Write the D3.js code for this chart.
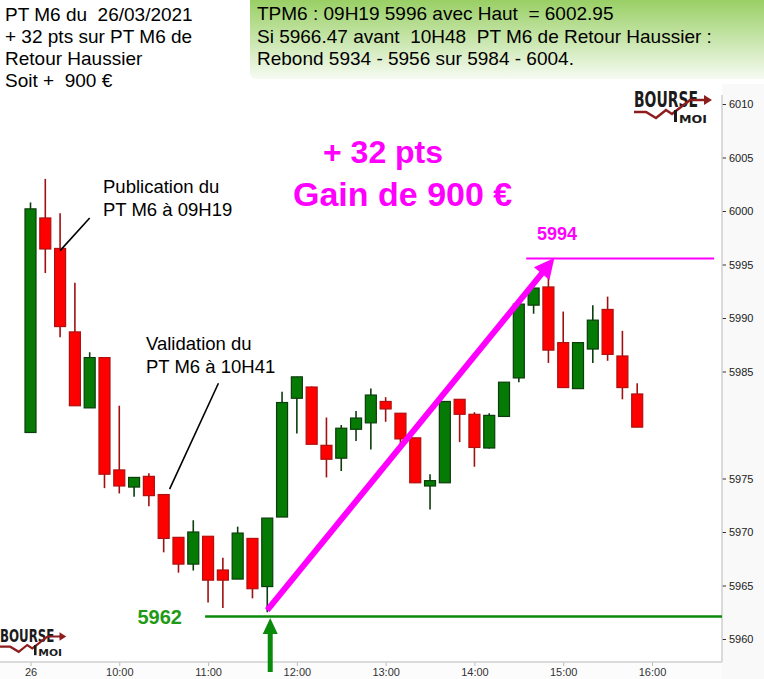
<!DOCTYPE html>
<html>
<head>
<meta charset="utf-8">
<script src="https://cdn.jsdelivr.net/npm/d3@7"></script>
<style>
  body { margin: 0; background: #fff; }
  svg  { display: block; font-family: "Liberation Sans", Arial, sans-serif; }
</style>
</head>
<body>
<div id="chart"></div>
<script>
// 10 minute candles, 26/03/2021
var times  = ["09:00","09:10","09:20","09:30","09:40","09:50","10:00","10:10","10:20","10:30",
              "10:40","10:50","11:00","11:10","11:20","11:30","11:40","11:50","12:00","12:10",
              "12:20","12:30","12:40","12:50","13:00","13:10","13:20","13:30","13:40","13:50",
              "14:00","14:10","14:20","14:30","14:40","14:50","15:00","15:10","15:20","15:30",
              "15:40","15:50"];
var opens  = [5979.3,5999.35,5996.5,5988.7,5981.6,5986.3,5975.8,5974.2,5975.2,5973.5,
              5969.5,5967.0,5969.6,5966.45,5965.6,5969.4,5964.9,5971.4,5982.5,5983.55,
              5978.1,5976.9,5979.6,5980.2,5982.2,5981.1,5978.8,5974.3,5974.6,5982.4,
              5981.0,5977.85,5980.8,5984.4,5991.2,5992.9,5987.7,5983.4,5987.1,5990.8,
              5986.45,5982.9];
var highs  = [6000.8,6003.0,5999.8,5993.3,5986.8,5986.3,5981.8,5975.1,5975.5,5973.5,
              5969.5,5971.1,5969.6,5967.6,5970.5,5969.4,5971.3,5983.1,5984.5,5983.6,
              5980.7,5980.0,5981.3,5983.4,5982.6,5981.1,5978.8,5975.4,5982.2,5982.4,
              5981.2,5981.1,5984.0,5991.3,5992.8,5993.8,5990.6,5987.7,5991.2,5992.0,
              5988.8,5983.9];
var lows   = [5979.3,5994.2,5988.2,5981.8,5981.6,5974.1,5973.6,5973.3,5972.4,5968.1,
              5966.2,5966.4,5963.4,5962.9,5965.6,5963.8,5962.5,5971.4,5979.2,5978.2,
              5975.1,5975.7,5978.5,5977.7,5980.3,5978.1,5974.6,5972.1,5974.6,5978.4,
              5976.1,5977.8,5980.8,5984.0,5990.4,5985.8,5983.5,5983.4,5985.8,5986.0,
              5982.4,5979.8];
var closes = [6000.2,5996.45,5989.2,5981.8,5986.3,5975.4,5974.3,5975.1,5973.4,5969.4,
              5967.0,5970.0,5965.5,5965.5,5969.9,5964.7,5971.3,5982.1,5984.5,5978.2,
              5976.8,5979.7,5980.65,5982.8,5981.5,5978.7,5974.6,5974.8,5982.2,5981.0,
              5977.9,5980.9,5984.0,5991.3,5992.8,5987.0,5983.5,5987.7,5989.8,5986.6,
              5983.5,5979.8];

var yTicks      = [6010, 6005, 6000, 5995, 5990, 5985, 5975, 5970, 5965, 5960];
var xTicks      = ["09:00","10:00","11:00","12:00","13:00","14:00","15:00","16:00"];
var xTickLabels = ["26","10:00","11:00","12:00","13:00","14:00","15:00","16:00"];

var headerLeft  = ["PT M6 du  26/03/2021", "+ 32 pts sur PT M6 de", "Retour Haussier", "Soit +  900 \u20ac"];
var headerRight = ["TPM6 : 09H19 5996 avec Haut  = 6002.95",
                   "Si 5966.47 avant  10H48  PT M6 de Retour Haussier :",
                   "Rebond 5934 - 5956 sur 5984 - 6004."];

// levels and arrows (time, value)
var support     = {value: 5962.1, label: "5962", from: "10:58"};
var target      = {value: 5995.55, label: "5994", from: "14:35", to: "16:42"};
var gainArrow   = [["11:40", 5962.7], ["14:54", 5995.6]];
var callout1    = [["09:40", 5999.35], ["09:20", 5996.3]];
var callout2    = [["11:07", 5983.9], ["10:34", 5974.0]];

var W = 764, H = 679;
var plot = {left: 0, right: 722, top: 95, bottom: 662};

var parse = d3.timeParse("%H:%M");
var x = d3.scaleTime().domain([parse("09:00"), parse("16:00")]).range([30.5, 652]);
var y = d3.scaleLinear().domain([5960, 6010]).range([639, 104]);

var data = times.map(function(t, i) {
    return {t: parse(t), o: opens[i], h: highs[i], l: lows[i], c: closes[i]};
});

var svg = d3.select("#chart").append("svg").attr("width", W).attr("height", H);
var defs = svg.append("defs");

// backgrounds
svg.append("rect").attr("x", plot.right).attr("y", 84).attr("width", W - plot.right).attr("height", H - 84).attr("fill", "#f9f9f9");
svg.append("rect").attr("x", 0).attr("y", plot.bottom).attr("width", plot.right).attr("height", H - plot.bottom).attr("fill", "#fcfcfc");

// header box gradient
var grad = defs.append("linearGradient").attr("id", "hdr").attr("x1", 0).attr("y1", 0).attr("x2", 0).attr("y2", 1);
grad.append("stop").attr("offset", "0%").attr("stop-color", "#92cc5a");
grad.append("stop").attr("offset", "100%").attr("stop-color", "#f6fbf2");
svg.append("rect").attr("x", 250).attr("y", -6).attr("width", 520).attr("height", 85).attr("rx", 6).attr("fill", "url(#hdr)");

svg.append("g").selectAll("text").data(headerLeft).enter()
    .append("text")
    .attr("x", 5).attr("y", function(d, i) { return 21 + i * 22; })
    .style("white-space", "pre").attr("font-size", 19).attr("fill", "#000")
    .text(function(d) { return d; });

svg.append("g").selectAll("text").data(headerRight).enter()
    .append("text")
    .attr("x", 257).attr("y", function(d, i) { return 20 + i * 22.5; })
    .style("white-space", "pre").attr("font-size", 19).attr("fill", "#000")
    .text(function(d) { return d; });

// axes
var yAxis = d3.axisRight(y).tickValues(yTicks).tickSize(4).tickPadding(3).tickFormat(d3.format("d"));
var gy = svg.append("g").attr("transform", "translate(" + plot.right + ",0)").call(yAxis);
gy.select(".domain").remove();
gy.selectAll("line").attr("stroke", "#333");
gy.selectAll("text").attr("font-size", 11).attr("fill", "#222").attr("font-family", "Liberation Sans, Arial, sans-serif");
svg.append("line").attr("x1", plot.right).attr("x2", plot.right).attr("y1", plot.top).attr("y2", plot.bottom).attr("stroke", "#cfcfcf").attr("stroke-width", 1.5);

var xAxis = d3.axisBottom(x).tickValues(xTicks.map(parse)).tickSize(4).tickPadding(2)
    .tickFormat(function(d, i) { return xTickLabels[i]; });
var gx = svg.append("g").attr("transform", "translate(0," + plot.bottom + ")").call(xAxis);
gx.select(".domain").remove();
gx.selectAll("line").attr("stroke", "#bbb");
gx.selectAll("text").attr("font-size", 11).attr("fill", "#333").attr("font-family", "Liberation Sans, Arial, sans-serif");
svg.append("line").attr("x1", plot.left).attr("x2", plot.right).attr("y1", plot.bottom).attr("y2", plot.bottom).attr("stroke", "#cfcfcf").attr("stroke-width", 1.5);

// logos
function logo(tx, ty, k) {
    var g = svg.append("g").attr("transform", "translate(" + tx + "," + ty + ") scale(" + k + ")");
    g.append("text").attr("x", 0).attr("y", 17).attr("font-family", "DejaVu Sans Condensed, DejaVu Sans")
        .attr("font-weight", "bold").attr("font-size", 21).attr("textLength", 64).attr("lengthAdjust", "spacingAndGlyphs")
        .attr("fill", "#1b1b1b").text("BOURSE");
    g.append("path").attr("d", "M0,22 L12,22 L22,28 L32,20 L38,24 L56,10 L71,10")
        .attr("fill", "none").attr("stroke", "#8e1d1d").attr("stroke-width", 2.6);
    g.append("path").attr("d", "M70,5 L78,10 L70,15 Z").attr("fill", "#8e1d1d");
    g.append("rect").attr("x", 40).attr("y", 20).attr("width", 3).attr("height", 12).attr("fill", "#1b1b1b");
    g.append("text").attr("x", 45).attr("y", 32.5).attr("font-family", "DejaVu Sans Condensed, DejaVu Sans")
        .attr("font-weight", "bold").attr("font-size", 11).attr("textLength", 28).attr("lengthAdjust", "spacingAndGlyphs")
        .attr("fill", "#1b1b1b").text("MOI");
}
logo(634, 90, 1);
logo(0, 628, 0.85);

// support level
svg.append("line")
    .attr("x1", x(parse(support.from))).attr("x2", plot.right)
    .attr("y1", y(support.value)).attr("y2", y(support.value))
    .attr("stroke", "#0a8a0a").attr("stroke-width", 2.5);
svg.append("text").attr("x", 182).attr("y", y(support.value) + 7).attr("text-anchor", "end")
    .attr("font-size", 20).attr("font-weight", "bold").attr("fill", "#1f9a14").text(support.label);

// target level
svg.append("line")
    .attr("x1", x(parse(target.from))).attr("x2", x(parse(target.to)))
    .attr("y1", y(target.value)).attr("y2", y(target.value))
    .attr("stroke", "#ff00ff").attr("stroke-width", 2);
svg.append("text").attr("x", 537).attr("y", 240)
    .attr("font-size", 18).attr("font-weight", "bold").attr("fill", "#ff00ff").text(target.label);

// candles
var bw = 11;
var cg = svg.append("g");
var candle = cg.selectAll(".candle").data(data).enter().append("g").attr("class", "candle");
candle.append("line")
    .attr("x1", function(d) { return x(d.t); }).attr("x2", function(d) { return x(d.t); })
    .attr("y1", function(d) { return y(d.h); }).attr("y2", function(d) { return y(d.l); })
    .attr("stroke", function(d) { return d.c >= d.o ? "#0c3d0c" : "#a01010"; })
    .attr("stroke-width", 1.6);
candle.append("rect")
    .attr("x", function(d) { return x(d.t) - bw / 2; })
    .attr("y", function(d) { return y(Math.max(d.o, d.c)); })
    .attr("width", bw)
    .attr("height", function(d) { return Math.max(1, Math.abs(y(d.o) - y(d.c))); })
    .attr("fill", function(d) { return d.c >= d.o ? "#057a05" : "#ff0000"; })
    .attr("stroke", function(d) { return d.c >= d.o ? "#0c3d0c" : "#b01010"; })
    .attr("stroke-width", 1.2);

// gain arrow (magenta)
var a0 = [x(parse(gainArrow[0][0])), y(gainArrow[0][1])];
var a1 = [x(parse(gainArrow[1][0])), y(gainArrow[1][1])];
var ang = Math.atan2(a1[1] - a0[1], a1[0] - a0[0]);
var hl = 20, hw = 10;
var base = [a1[0] - hl * Math.cos(ang), a1[1] - hl * Math.sin(ang)];
svg.append("line").attr("x1", a0[0]).attr("y1", a0[1]).attr("x2", base[0] + 2 * Math.cos(ang)).attr("y2", base[1] + 2 * Math.sin(ang))
    .attr("stroke", "#ff00ff").attr("stroke-width", 6);
svg.append("path")
    .attr("d", "M" + a1[0] + "," + a1[1] +
        "L" + (base[0] + hw * Math.sin(ang)) + "," + (base[1] - hw * Math.cos(ang)) +
        "L" + (base[0] - hw * Math.sin(ang)) + "," + (base[1] + hw * Math.cos(ang)) + "Z")
    .attr("fill", "#ff00ff");

// green up arrow under the low
var gxp = x(parse("11:42"));
svg.append("rect").attr("x", gxp - 2.5).attr("y", 632).attr("width", 5).attr("height", 40).attr("fill", "#0a8a0a");
svg.append("path").attr("d", "M" + gxp + ",618 L" + (gxp - 7.5) + ",634 L" + (gxp + 7.5) + ",634 Z").attr("fill", "#0a8a0a");

// callouts
[callout1, callout2].forEach(function(c) {
    svg.append("line")
        .attr("x1", x(parse(c[0][0]))).attr("y1", y(c[0][1]))
        .attr("x2", x(parse(c[1][0]))).attr("y2", y(c[1][1]))
        .attr("stroke", "#000").attr("stroke-width", 1.6);
});
svg.append("text").attr("x", 103).attr("y", 193).attr("font-size", 18.5).text("Publication du");
svg.append("text").attr("x", 103).attr("y", 216).attr("font-size", 18.5).text("PT M6 \u00e0 09H19");
svg.append("text").attr("x", 146).attr("y", 350).attr("font-size", 18.5).text("Validation du");
svg.append("text").attr("x", 146).attr("y", 373).attr("font-size", 18.5).text("PT M6 \u00e0 10H41");

// gain text
svg.append("text").attr("x", 323).attr("y", 163).attr("font-size", 32).attr("font-weight", "bold")
    .attr("fill", "#ff00ff").style("white-space", "pre").text("+ 32 pts");
svg.append("text").attr("x", 293).attr("y", 206).attr("font-size", 34).attr("font-weight", "bold")
    .attr("fill", "#ff00ff").text("Gain de 900 \u20ac");
</script>
</body>
</html>
